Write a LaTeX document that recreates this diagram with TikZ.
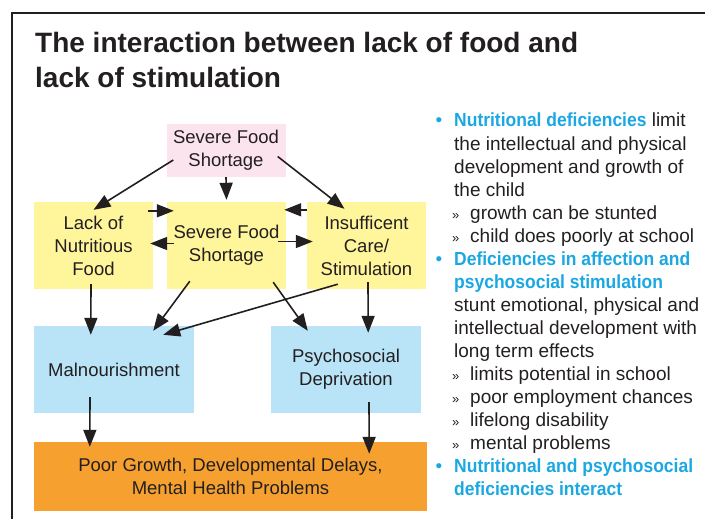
\documentclass[tikz,border=0pt]{standalone}
\usepackage{fontspec}
\setmainfont{Liberation Sans}
\newfontfamily\hdfont{Liberation Sans}[FakeStretch=0.92]
\usetikzlibrary{arrows.meta}
\definecolor{ink}{HTML}{231F20}
\definecolor{pinkfill}{HTML}{FCE4EE}
\definecolor{yellowfill}{HTML}{FFF59B}
\definecolor{bluefill}{HTML}{B9E4F8}
\definecolor{orangefill}{HTML}{F6A12F}
\definecolor{headcyan}{HTML}{1AA7E2}
\newcommand{\bul}{\llap{\textcolor{headcyan}{\textbullet}\hspace{12pt}}}
\newcommand{\sub}{\hspace*{-2pt}\makebox[18pt][l]{\fontsize{13}{13}\selectfont »}}
\newcommand{\hd}[1]{\textcolor{headcyan}{\hdfont\bfseries #1}}
\begin{document}
\begin{tikzpicture}[x=1pt, y=-1pt, >={Triangle[length=17pt, width=13pt]}]
	\tikzstyle{every node} = [inner sep=0pt, text=ink]
	\tikzstyle{diabox} = [minimum height=87pt, minimum width=119pt, align=center, font=\fontsize{18.5}{23}\selectfont]
	\tikzstyle{linktext} = [anchor=base west, font=\fontsize{19}{23}\selectfont]
	\tikzstyle{link} = [->, draw=ink, fill=ink, line width=1.6pt]
	\useasboundingbox (0,0) rectangle (705,519);
	\draw [ink, line width=1.5pt] (705,13) -- (12,13) -- (12,519);
	\node [anchor=base west, font=\fontsize{28}{35}\bfseries\selectfont] (title1) at (35,53) {The interaction between lack of food and};
	\node [anchor=base west, font=\fontsize{28}{35}\bfseries\selectfont] (title2) at (35,88) {lack of stimulation};
	\node [diabox, fill=pinkfill, minimum height=53pt] (food) at (226,150.5) {Severe Food\\Shortage};
	\node [diabox, fill=yellowfill] (lack) at (93.5,245.5) {Lack of\\Nutritious\\Food};
	\node [diabox, fill=yellowfill] (sev) at (226.5,245.5) {Severe Food\\Shortage};
	\node [diabox, fill=yellowfill] (care) at (366.5,245.5) {Insufficent\\Care/\\Stimulation};
	\node [diabox, fill=bluefill, minimum width=160pt] (maln) at (114,369.5) {Malnourishment};
	\node [diabox, fill=bluefill, minimum width=150pt] (psy) at (346,369.5) {Psychosocial\\Deprivation};
	\node [diabox, fill=orangefill, minimum width=393pt, minimum height=69pt] (poor) at (230.5,476.5) {Poor Growth, Developmental Delays,\\Mental Health Problems};
	\draw [link] ([shift={(7,9.5)}]food.west) -- ([shift={(0,8)}]lack.north);
	\draw [link] (food.south) -- ([shift={(0,-2)}]sev.north);
	\draw [link] ([shift={(-8,6)}]food.east) -- ([shift={(-22,7)}]care.north);
	\draw [link] ([shift={(-5,9)}]lack.north east) -- ([shift={(7,9)}]sev.north west);
	\draw [link] ([shift={(0,8)}]care.north west) -- ([shift={(-2,8)}]sev.north east);
	\draw [link] ([shift={(7,-2)}]sev.west) -- ([shift={(-3,-2)}]lack.east);
	\draw [link] ([shift={(-8,-4)}]sev.east) -- ([shift={(6,-4)}]care.west);
	\draw [link] ([shift={(-2.5,-5)}]lack.south) -- ([shift={(57,9)}]maln.north west);
	\draw [link] ([shift={(23,-8)}]sev.south west) -- ([shift={(-41,5)}]maln.north east);
	\draw [link] ([shift={(31,-5)}]care.south west) -- ([shift={(-31,9)}]maln.north east);
	\draw [link] ([shift={(-13,-7)}]sev.south east) -- ([shift={(37,5)}]psy.north west);
	\draw [link] ([shift={(1.5,-7)}]care.south) -- ([shift={(-53,7)}]psy.north east);
	\draw [link] ([shift={(-24,-16)}]maln.south) -- ([shift={(56,5)}]poor.north west);
	\draw [link] ([shift={(23,-11)}]psy.south) -- ([shift={(-58,12)}]poor.north east);
	\foreach \txt [count=\i] in {
		{\bul\hd{Nutritional deficiencies} limit},
		{the intellectual and physical},
		{development and growth of},
		{the child},
		{\sub growth can be stunted},
		{\sub child does poorly at school},
		{\bul\hd{Deficiencies in affection and}},
		{\hd{psychosocial stimulation}},
		{stunt emotional, physical and},
		{intellectual development with},
		{long term effects},
		{\sub limits potential in school},
		{\sub poor employment chances},
		{\sub lifelong disability},
		{\sub mental problems},
		{\bul\hd{Nutritional and psychosocial}},
		{\hd{deficiencies interact}}}
		\node [linktext] (note\i) at (454,104+23*\i) {\txt};
\end{tikzpicture}
\end{document}
